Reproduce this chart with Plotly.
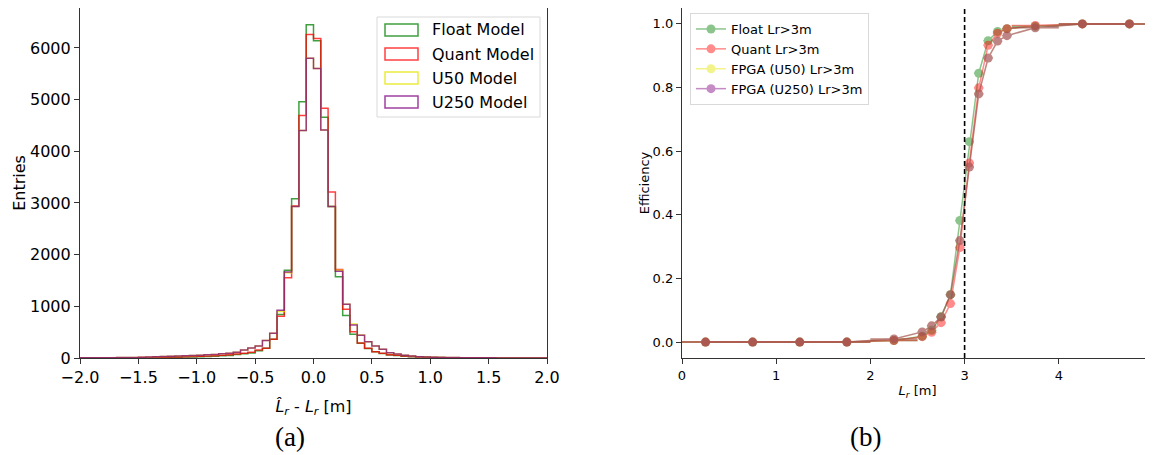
import numpy as np
import plotly.graph_objects as go
from plotly.subplots import make_subplots

# ---- data : histogram of Lr residuals (64 bins from -2 to 2)
bin_edges = np.linspace(-2.0, 2.0, 65)

float_counts = [1, 1, 1, 2, 2, 3, 3, 4, 5, 6,
                8, 10, 12, 14, 17, 21, 25, 30, 36, 42,
                50, 66, 82, 95, 142, 187, 365, 840, 1700, 3080,
                4960, 6450, 6140, 4660, 2930, 1570, 820, 460, 285, 185,
                120, 86, 60, 48, 36, 26, 19, 14, 11, 9,
                7, 6, 5, 4, 3, 3, 2, 2, 2, 1,
                1, 1, 1, 1]
quant_counts = [1, 2, 2, 3, 3, 4, 5, 6, 8, 10,
                12, 14, 17, 20, 24, 28, 32, 38, 45, 53,
                62, 75, 90, 110, 155, 187, 361, 810, 1555, 2940,
                4690, 6260, 6180, 4830, 3210, 1710, 945, 510, 290, 187,
                123, 90, 65, 52, 39, 27, 20, 15, 11, 9,
                7, 6, 5, 4, 3, 3, 2, 2, 2, 1,
                1, 1, 1, 1]
u50_counts = [3, 3, 4, 5, 6, 8, 10, 12, 16, 19,
              23, 27, 32, 38, 44, 50, 55, 62, 70, 80,
              92, 110, 155, 195, 232, 340, 477, 900, 1650, 2930,
              4400, 5800, 5600, 4410, 2930, 1700, 1040, 660, 445, 316,
              232, 168, 103, 77, 52, 39, 26, 20, 16, 12,
              10, 8, 6, 5, 4, 3, 3, 2, 2, 2,
              1, 1, 1, 1]
u250_counts = [3, 3, 4, 5, 6, 8, 10, 12, 16, 19,
               23, 27, 32, 38, 44, 50, 55, 62, 70, 80,
               92, 110, 155, 195, 232, 340, 477, 925, 1665, 2930,
               4400, 5800, 5600, 4410, 2930, 1680, 1040, 640, 440, 316,
               232, 168, 103, 77, 52, 39, 26, 20, 16, 12,
               10, 8, 6, 5, 4, 3, 3, 2, 2, 2,
               1, 1, 1, 1]

# ---- data : efficiency vs Lr
lr_centers = [0.25, 0.75, 1.25, 1.75, 2.25, 2.55, 2.65, 2.75, 2.85, 2.95,
              3.05, 3.15, 3.25, 3.35, 3.45, 3.75, 4.25, 4.75]
lr_halfwidth = [0.25, 0.25, 0.25, 0.25, 0.25, 0.05, 0.05, 0.05, 0.05, 0.05,
                0.05, 0.05, 0.05, 0.05, 0.05, 0.25, 0.25, 0.25]
eff_float = [0.0, 0.0, 0.0, 0.0, 0.005, 0.018, 0.037, 0.08, 0.149, 0.382,
             0.630, 0.845, 0.947, 0.976, 0.985, 0.993, 1.0, 1.0]
eff_quant = [0.0, 0.0, 0.0, 0.0, 0.005, 0.017, 0.031, 0.061, 0.121, 0.297,
             0.563, 0.799, 0.933, 0.971, 0.985, 0.995, 1.0, 1.0]
eff_u50 = [0.0, 0.0, 0.0, 0.0, 0.010, 0.032, 0.051, 0.079, 0.149, 0.319,
           0.550, 0.780, 0.893, 0.946, 0.963, 0.988, 1.0, 1.0]
eff_u250 = [0.0, 0.0, 0.0, 0.0, 0.010, 0.032, 0.051, 0.079, 0.149, 0.319,
            0.550, 0.780, 0.893, 0.946, 0.963, 0.988, 1.0, 1.0]

# the page body keeps its default 8px margin, so the figure is laid out
# in window pixels shifted by OFF
OFF = 8
W, H = 1153 - OFF, 455 - OFF
font = "DejaVu Sans"


def px(x):
    return (x - OFF) / W


def py(y):
    return 1 - (y - OFF) / H


fig = make_subplots(rows=1, cols=2)


def step_xy(counts):
    # closed matplotlib-like "step" outline from the bin edges
    xs = [bin_edges[0]] + list(bin_edges) + [bin_edges[-1]]
    ys = [0] + list(counts) + [counts[-1], 0]
    return xs, ys


hist_series = [("Float Model", float_counts, "green"),
               ("Quant Model", quant_counts, "red"),
               ("U50 Model", u50_counts, "#e6e600"),
               ("U250 Model", u250_counts, "purple")]

for name, counts, col in hist_series:
    xs, ys = step_xy(counts)
    fig.add_trace(go.Scatter(x=xs, y=ys, mode="lines", line_shape="hv",
                             line=dict(color=col, width=1.5), opacity=0.75,
                             name=name, showlegend=False, hoverinfo="skip"), 1, 1)

eff_series = [("Float Lr>3m", eff_float, "green"),
              ("Quant Lr>3m", eff_quant, "red"),
              ("FPGA (U50) Lr>3m", eff_u50, "#e6e600"),
              ("FPGA (U250) Lr>3m", eff_u250, "purple")]

for name, vals, col in eff_series:
    fig.add_trace(go.Scatter(x=lr_centers, y=vals, mode="lines+markers",
                             line=dict(color=col, width=1.5),
                             marker=dict(color=col, size=9),
                             error_x=dict(type="data", array=lr_halfwidth, color=col,
                                          thickness=1.5, width=0),
                             opacity=0.45, name=name, legend="legend2"), 1, 2)

# manual legend for the histogram (rectangle patches like matplotlib)
fig.add_shape(type="rect", xref="paper", yref="paper",
              x0=px(377), x1=px(540), y0=py(117), y1=py(17),
              line=dict(color="#d9d9d9", width=1), fillcolor="rgba(255,255,255,0.8)")
for k, (name, counts, col) in enumerate(hist_series):
    yc = 30 + 24 * k
    fig.add_shape(type="rect", xref="paper", yref="paper",
                  x0=px(385), x1=px(418), y0=py(yc + 6), y1=py(yc - 6),
                  line=dict(color=col, width=1.5), opacity=0.75, fillcolor="rgba(0,0,0,0)")
    fig.add_annotation(x=px(430), y=py(yc), xref="paper", yref="paper",
                       text=name, showarrow=False, xanchor="left", yanchor="middle",
                       font=dict(family=font, size=16, color="black"))

fig.add_vline(x=3, line=dict(color="black", width=1.6, dash="5px,3px"), row=1, col=2)

ax_common = dict(showline=True, linecolor="#333", linewidth=1.2, mirror=True,
                 ticks="outside", ticklen=5, tickcolor="#333", showgrid=False,
                 zeroline=False, automargin=False)

ydom = [py(358), py(8)]
fig.update_xaxes(domain=[px(80), px(547)], range=[-2, 2], dtick=0.5, tickformat=".1f",
                 tickfont=dict(family=font, size=16, color="black"),
                 title=dict(text="<i>L&#770;</i><sub><i>r</i></sub> - <i>L</i><sub><i>r</i></sub> [m]",
                            font=dict(family=font, size=16, color="black"), standoff=14),
                 **ax_common, row=1, col=1)
fig.update_yaxes(domain=ydom, range=[0, 6772], dtick=1000,
                 tickfont=dict(family=font, size=16, color="black"),
                 title=dict(text="Entries", font=dict(family=font, size=16, color="black"), standoff=0),
                 **ax_common, row=1, col=1)
fig.update_xaxes(domain=[px(682), 1.0], range=[0, 5], dtick=1, ticklabeloverflow="allow",
                 tickfont=dict(family=font, size=13, color="black"),
                 title=dict(text="<i>L</i><sub><i>r</i></sub> [m]",
                            font=dict(family=font, size=13, color="black"), standoff=4),
                 **ax_common, row=1, col=2)
fig.update_yaxes(domain=ydom, range=[-0.05, 1.05], dtick=0.2, tickformat=".1f",
                 tickfont=dict(family=font, size=13, color="black"),
                 title=dict(text="Efficiency", font=dict(family=font, size=13, color="black"), standoff=0),
                 **ax_common, row=1, col=2)

# sub-figure captions
for txt, xc in [("(a)", 290), ("(b)", 865)]:
    fig.add_annotation(x=px(xc), y=py(437), xref="paper", yref="paper", text=txt,
                       showarrow=False, xanchor="center", yanchor="middle",
                       font=dict(family="Liberation Serif", size=27, color="black"))

fig.update_layout(width=W, height=H, margin=dict(l=0, r=0, t=0, b=0),
                  plot_bgcolor="white", paper_bgcolor="white",
                  font=dict(family=font),
                  legend2=dict(x=px(690), y=py(13), xanchor="left", yanchor="top",
                               bgcolor="rgba(255,255,255,0.8)", bordercolor="#d9d9d9",
                               borderwidth=1, font=dict(family=font, size=13, color="black"),
                               tracegroupgap=0, itemwidth=30))

fig.write_html("out.html")
